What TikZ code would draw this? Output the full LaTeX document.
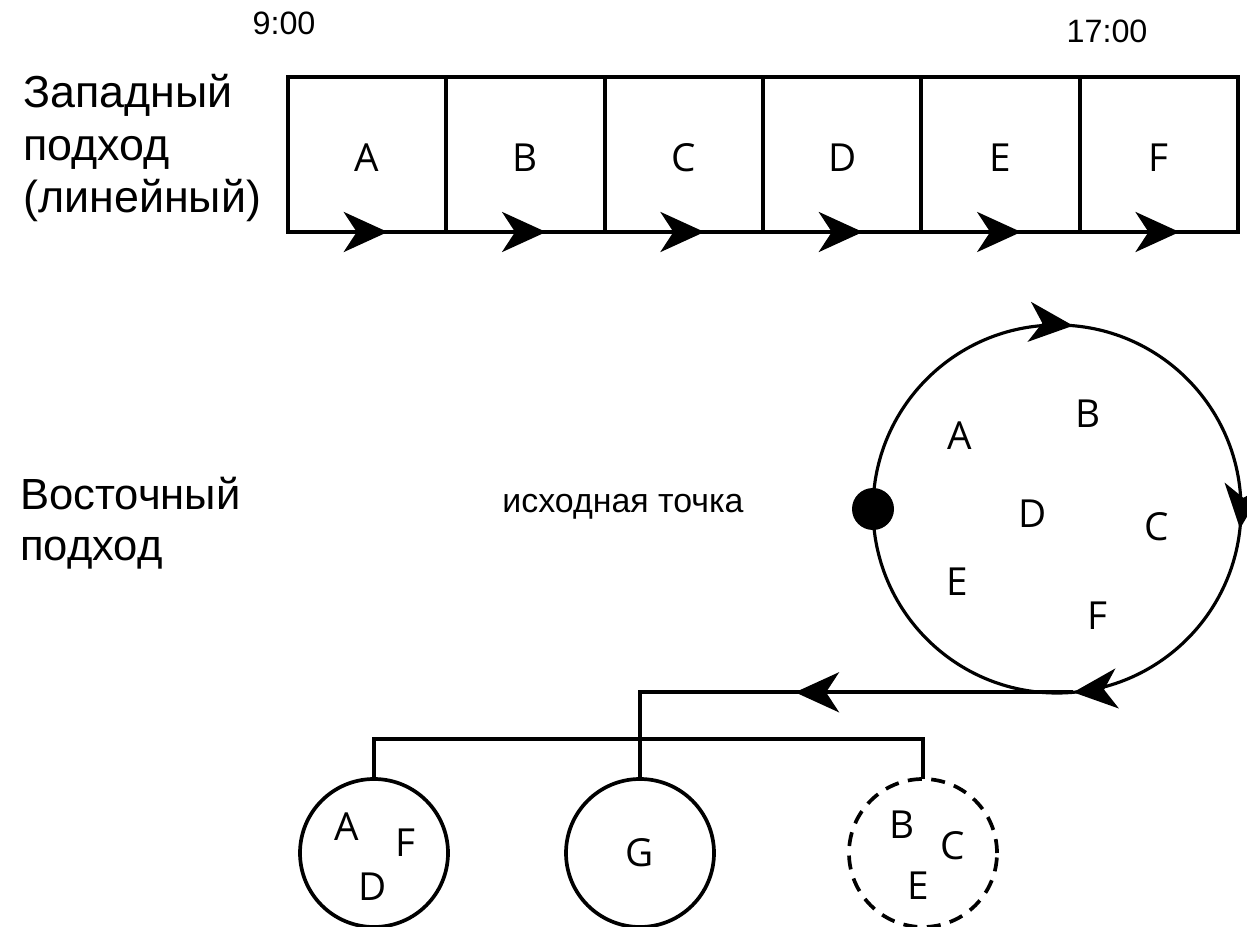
\documentclass[tikz,border=0pt]{standalone}
\usepackage{fontspec}
\setmainfont{Liberation Sans}
\newfontfamily\letterfont{Open Sans}
\usetikzlibrary{positioning,arrows.meta,decorations.markings}

\tikzset{bigtip/.tip={Stealth[length=.88cm,width=.8cm,inset=.26cm]}}

\begin{document}
\begin{tikzpicture}[
    cell/.style={draw,line width=2.3pt,minimum width=3.167cm,minimum height=3.1cm,
      inner sep=0pt,outer sep=0pt,text height=.67cm,text depth=0pt,
      font=\letterfont\fontsize{22}{25}\selectfont},
    letter/.style={inner sep=0pt,font=\letterfont\fontsize{22}{25}\selectfont},
    subset/.style={circle,draw,line width=2.1pt,minimum size=2.96cm,inner sep=0pt,outer sep=0pt},
    label/.style={inner sep=0pt,align=left,font=\fontsize{25.5}{30}\selectfont},
    midtip/.style={postaction=decorate,decoration={markings,
        mark=at position #1 with {\arrow{bigtip}}}}
  ]
    \useasboundingbox (0,0) rectangle (24.94,-18.54);

    % western approach: one line of tasks
    \node[label,anchor=base,font=\fontsize{18.4}{22}\selectfont] (start time) at (5.68,-0.70) {9:00};
    \node[label,anchor=base,font=\fontsize{18.4}{22}\selectfont] (end time) at (22.14,-0.86) {17:00};
    \node[label,anchor=base west] (west) at (0.46,-4.26) {Западный\\подход\\(линейный)};

    \node[cell] (wa) at (7.343,-3.09) {A};
    \node[cell,right=0pt of wa] (wb) {B};
    \node[cell,right=0pt of wb] (wc) {C};
    \node[cell,right=0pt of wc] (wd) {D};
    \node[cell,right=0pt of wd] (we) {E};
    \node[cell,right=0pt of we] (wf) {F};
    \draw[line width=2.3pt,midtip=.63] (wa.south west) -- (wa.south east);
    \draw[line width=2.3pt,midtip=.63] (wb.south west) -- (wb.south east);
    \draw[line width=2.3pt,midtip=.63] (wc.south west) -- (wc.south east);
    \draw[line width=2.3pt,midtip=.63] (wd.south west) -- (wd.south east);
    \draw[line width=2.3pt,midtip=.63] (we.south west) -- (we.south east);
    \draw[line width=2.3pt,midtip=.63] (wf.south west) -- (wf.south east);

    % eastern approach: a cycle
    \node[label,anchor=base west,font=\fontsize{24.8}{29}\selectfont] (east) at (0.40,-11.2) {Восточный\\подход};
    \node[label,anchor=base,font=\fontsize{19.3}{22}\selectfont] (origin) at (12.46,-10.24) {исходная точка};

    \node[circle,minimum size=7.36cm,inner sep=0pt,outer sep=0pt] (ring) at (21.14,-10.18) {};
    \draw[line width=1.8pt,postaction=decorate,decoration={markings,
        mark=at position .264 with {\arrow{bigtip}},
        mark=at position .517 with {\arrow{bigtip}},
        mark=at position .736 with {\arrow{bigtip}}}]
      (ring.west) arc[start angle=180,end angle=-180,radius=3.68cm];
    \node[circle,fill,minimum size=.84cm,inner sep=0pt] (dot) at (ring.west) {};

    \node[letter] (ra) at (19.2,-8.72) {A};
    \node[letter] (rb) at (21.76,-8.28) {B};
    \node[letter] (rd) at (20.66,-10.28) {D};
    \node[letter] (rc) at (23.14,-10.54) {C};
    \node[letter] (re) at (19.14,-11.64) {E};
    \node[letter] (rf) at (21.94,-12.32) {F};

    % split into subsets
    \node[subset] (adf) at (7.48,-17.06) {};
    \node[subset,font=\letterfont\fontsize{22}{25}\selectfont] (g) at (12.8,-17.06) {G};
    \node[subset,dash pattern=on .28cm off .19cm] (bce) at (18.46,-17.06) {};

    \node[letter] (sa) at (6.94,-16.54) {A};
    \node[letter] (sf) at (8.1,-16.86) {F};
    \node[letter] (sd) at (7.46,-17.74) {D};
    \node[letter] (sb) at (18.04,-16.5) {B};
    \node[letter] (sc) at (19.06,-16.92) {C};
    \node[letter] (se) at (18.36,-17.72) {E};

    \draw[line width=2.1pt,midtip=5.56cm] (ring.-85) -| (g.north);
    \draw[line width=2.1pt] (adf.north) -- ++(0,.8) -| (bce.north);
  \end{tikzpicture}
\end{document}
